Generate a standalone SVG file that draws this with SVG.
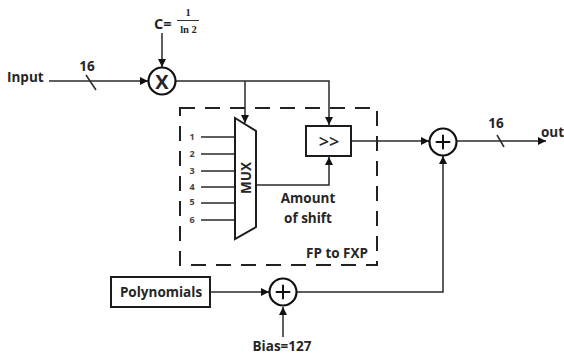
<svg xmlns="http://www.w3.org/2000/svg" width="564" height="359" viewBox="0 0 564 359">
<style>
text{font-family:"Open Sans","Noto Sans","Liberation Sans",sans-serif;font-weight:700;fill:#262626;font-size:13.500px}
.m{text-anchor:middle}
.s{font-size:10.500px;font-weight:700;font-family:"Liberation Serif",serif}
.n{font-size:9px;font-weight:700;fill:#444}
.c{fill:none;stroke:#2a2a2a;stroke-width:1.5}
.b{fill:#fff;stroke:#1c1c1c;stroke-width:2}
.o{fill:#fff;stroke:#111;stroke-width:2.2}
.g{fill:none;stroke:#111;stroke-width:2;stroke-linecap:round}
</style>
<defs><marker id="a" markerUnits="userSpaceOnUse" markerWidth="10" markerHeight="10" refX="8" refY="4" orient="auto"><path d="M0 0L8 4L0 8z" fill="#111"/></marker></defs>
<rect id="fp-to-fxp-frame" x="180" y="108" width="197" height="157" fill="none" stroke="#222" stroke-width="2" stroke-dasharray="15 10"/>
<g id="connectors" class="c">
<path class="c" d="M49 81H148" marker-end="url(#a)"/>
<path class="c" d="M86 75L96 90"/>
<path class="c" d="M162 33V67" marker-end="url(#a)"/>
<path class="c" d="M176 81H329V125" marker-end="url(#a)"/>
<path class="c" d="M245 81V123" marker-end="url(#a)"/>
<path class="c" d="M201 137H235M201 154H235M201 171H235M201 187H235M201 203H235M201 220H235"/>
<path class="c" d="M256 185H329V157" marker-end="url(#a)"/>
<path class="c" d="M351 141H429" marker-end="url(#a)"/>
<path class="c" d="M457 141H546" marker-end="url(#a)"/>
<path class="c" d="M497 135L504 147"/>
<path class="c" d="M210 292H269" marker-end="url(#a)"/>
<path class="c" d="M297 292H443V156" marker-end="url(#a)"/>
<path class="c" d="M283 337V307" marker-end="url(#a)"/>
</g>
<g id="input-label"><text x="7" y="82">Input</text><text class="m" x="87" y="71">16</text></g>
<g id="constant"><text x="154" y="29" style="font-size:14.500px">C=</text><text class="m s" x="188" y="16">1</text><path d="M177 20.500H199" stroke="#333" fill="none"/><text class="m s" x="188.500" y="33">ln 2</text></g>
<g id="multiplier"><circle class="o" cx="162" cy="81" r="13.500"/><text class="m" x="162" y="88.500" style="font-size:20px">X</text></g>
<g id="mux"><path class="b" d="M235 118L256 131V227L235 239Z"/><text class="m" transform="translate(251 178) rotate(-90)">MUX</text>
<g><text class="m n" x="192" y="140">1</text><text class="m n" x="192" y="157">2</text><text class="m n" x="192" y="174">3</text><text class="m n" x="192" y="190">4</text><text class="m n" x="192" y="205">5</text><text class="m n" x="192" y="223">6</text></g></g>
<g id="shifter"><rect class="b" x="306" y="126" width="45" height="30"/><text class="m" x="329" y="148" style="font-size:18px;font-weight:600">&gt;&gt;</text></g>
<g id="shift-label"><text class="m" x="308" y="203">Amount</text><text class="m" x="308" y="223">of shift</text></g>
<text id="fp-label" x="306" y="258">FP to FXP</text>
<g id="adder-out"><circle class="o" cx="443" cy="142" r="13.500"/><path class="g" d="M436.500 142H449.500M443 135.500V148.500"/></g>
<g id="output-label"><text class="m" x="496" y="128">16</text><text x="541" y="137">out</text></g>
<g id="polynomials"><rect class="b" x="111" y="277" width="99" height="30"/><text class="m" x="161" y="297">Polynomials</text></g>
<g id="adder-bias"><circle class="o" cx="283" cy="292" r="13.500"/><path class="g" d="M276.500 292H289.500M283 285.500V298.500"/></g>
<text id="bias" class="m" x="282" y="351">Bias=127</text>
</svg>
